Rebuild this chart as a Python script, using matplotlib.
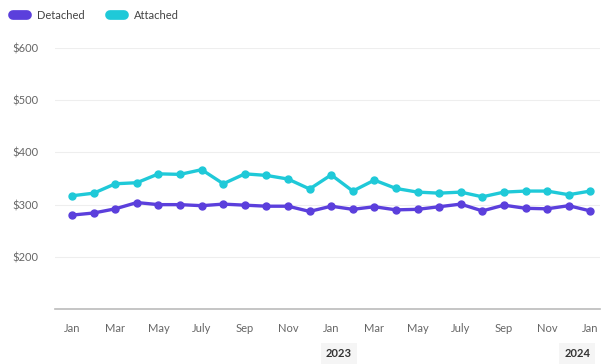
import matplotlib.pyplot as plt
from matplotlib.lines import Line2D
from matplotlib.transforms import blended_transform_factory

# monthly median values, Jan 2022 - Jan 2024
months = ["Jan", "Feb", "Mar", "Apr", "May", "Jun", "July", "Aug", "Sep", "Oct", "Nov", "Dec"] * 2 + ["Jan"]
detached = [280, 284, 292, 304, 300, 300, 298, 301, 299, 297, 297, 287,
            297, 291, 296, 290, 291, 296, 301, 288, 299, 293, 292, 298, 288]
attached = [317, 322, 340, 342, 359, 358, 367, 340, 359, 356, 349, 330,
            357, 326, 347, 331, 324, 322, 324, 315, 324, 326, 326, 319, 326]
y_ticks = [200, 300, 400, 500, 600]
years = {12: "2023", 24: "2024"}

purple = "#5b3fdc"
cyan = "#1fc9d8"
grey = "#666666"

plt.rcParams["font.family"] = ["Lato", "DejaVu Sans"]

fig = plt.figure(figsize=(6.03, 3.64), dpi=100)
ax = fig.add_axes([0.091, 0.151, 0.904, 0.717])

x = list(range(len(detached)))
ax.plot(x, detached, color=purple, lw=2.4, marker="o", ms=5, zorder=3)
ax.plot(x, attached, color=cyan, lw=2.4, marker="o", ms=5, zorder=3)

ax.set_xlim(-0.8, 24.45)
ax.set_ylim(100, 600)
ax.set_yticks(y_ticks)
ax.set_yticklabels([f"${v}" for v in y_ticks])
ax.set_xticks(x[::2])
ax.set_xticklabels(months[::2])
ax.tick_params(length=0, colors=grey, labelsize=8)
ax.tick_params(axis="y", pad=12)
ax.tick_params(axis="x", pad=10)

ax.grid(axis="y", color="#eeeeee", lw=0.8)
for side in ["top", "right", "left"]:
    ax.spines[side].set_visible(False)
ax.spines["bottom"].set_color("#bbbbbb")
ax.spines["bottom"].set_linewidth(1.2)

# year markers under the January ticks (last one nudged inside the edge)
trans = blended_transform_factory(ax.transData, ax.transAxes)
nudge = {12: 0.35, 24: -0.6}
for pos, label in years.items():
    ax.text(pos + nudge[pos], -0.172, label, transform=trans, ha="center", va="center",
            fontsize=8, fontweight="bold", color="#333333",
            bbox=dict(boxstyle="square,pad=0.45", fc="#f5f5f5", ec="none"))

handles = [Line2D([0], [0], color=purple, lw=7, solid_capstyle="round"),
           Line2D([0], [0], color=cyan, lw=7, solid_capstyle="round")]
fig.legend(handles, ["Detached", "Attached"], loc="upper left",
           bbox_to_anchor=(0.005, 1.0), ncol=2, frameon=False,
           handlelength=1.3, handletextpad=0.9, columnspacing=2.2,
           fontsize=8, labelcolor="#444444")

fig.savefig("out.png", dpi=100)
